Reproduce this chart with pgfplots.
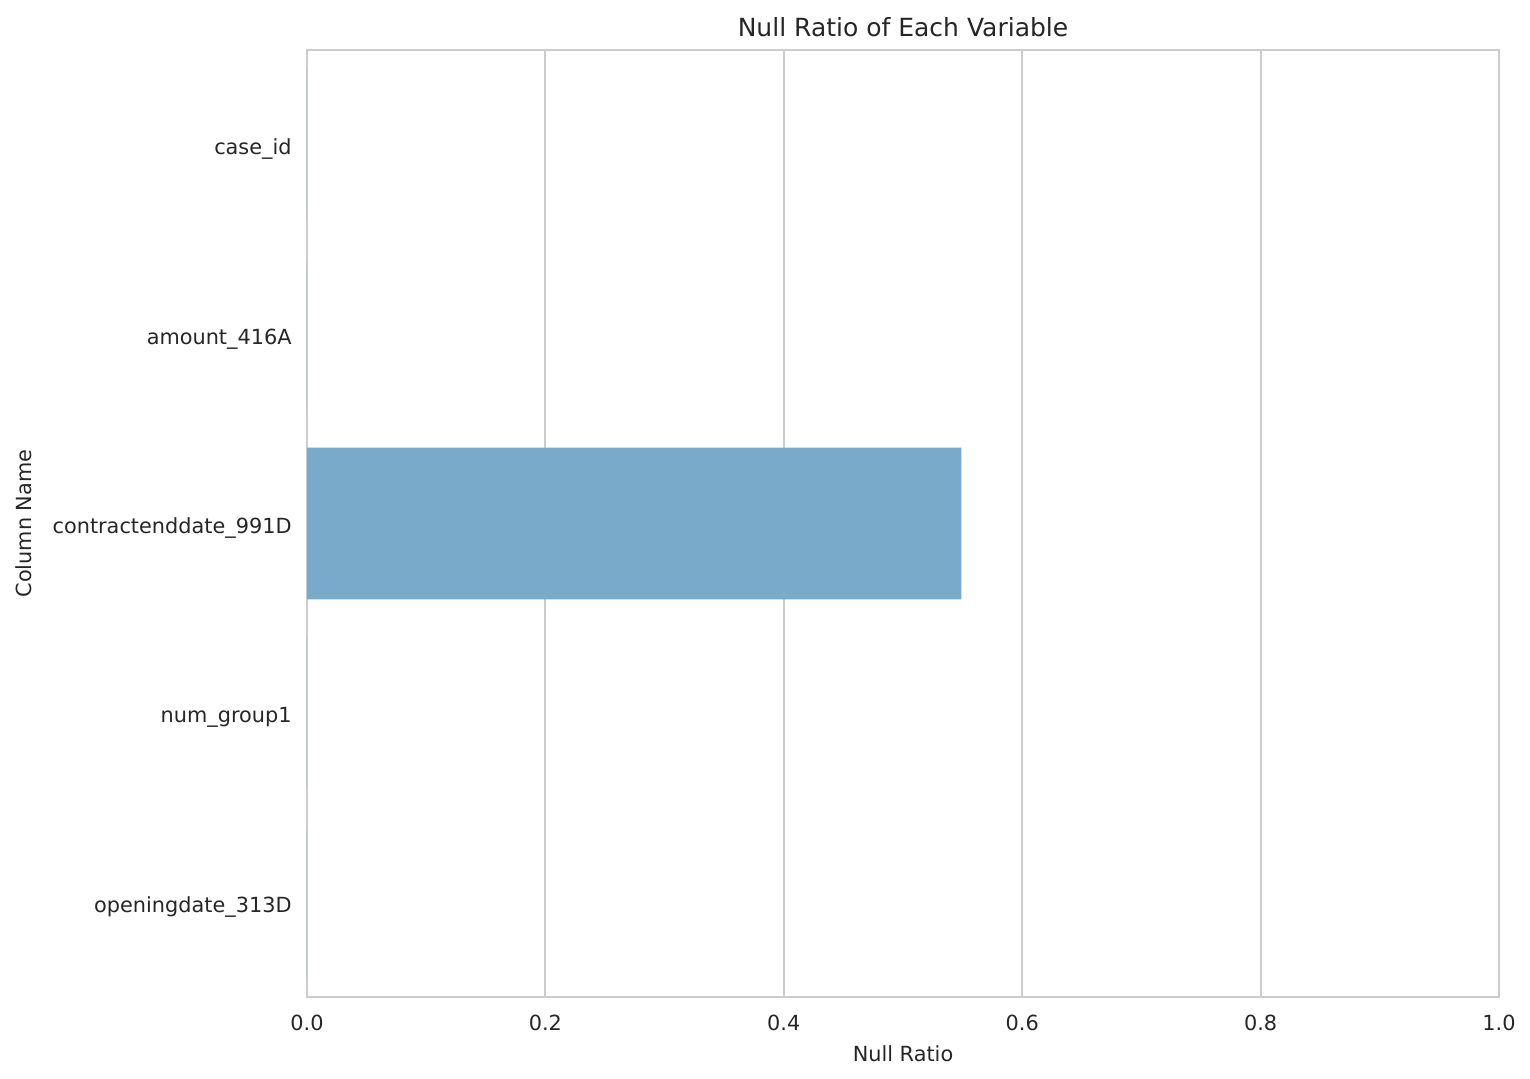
\documentclass[border=0pt]{standalone}
\usepackage{fontspec}
\setmainfont{DejaVu Sans}
\usepackage{pgfplots}
\pgfplotsset{compat=1.18}
\definecolor{barblue}{RGB}{122,170,201}
\definecolor{gridgray}{RGB}{204,204,204}
\definecolor{txt}{RGB}{38,38,38}
\begin{document}
\begin{tikzpicture}
\useasboundingbox (-147.36pt,-38.88pt) rectangle (587.04pt,478.56pt);
\begin{axis}[
  scale only axis, width=572.16pt, height=454.56pt,
  xbar, bar width=0.8, y dir=reverse,
  xmin=0, xmax=1, ymin=-0.5, ymax=4.5,
  ytick={0,1,2,3,4},
  yticklabels={case\_id, amount\_416A, contractenddate\_991D, num\_group1, openingdate\_313D},
  xtick={0,0.2,0.4,0.6,0.8,1},
  /pgf/number format/assume math mode=true,
  xticklabel style={/pgf/number format/fixed, /pgf/number format/fixed zerofill,
    /pgf/number format/precision=1, anchor=base, yshift=-15.84pt},
  yticklabel style={anchor=base east, inner sep=0pt, xshift=-7.2pt, yshift=-4.8pt},
  tick label style={font=\fontsize{10}{12}\selectfont, text=txt},
  major tick length=0pt,
  xmajorgrids, ymajorgrids=false,
  major grid style={gridgray, line width=0.9pt},
  axis line style={gridgray, line width=1pt},
  title={Null Ratio of Each Variable},
  title style={at={(axis description cs:0.5,1)}, anchor=base, yshift=0.3pt,
    font=\fontsize{12}{14}\selectfont, text=txt},
  xlabel={Null Ratio},
  xlabel style={at={(axis description cs:0.5,0)}, anchor=base, yshift=-30.8pt,
    font=\fontsize{10}{12}\selectfont, text=txt},
  ylabel={Column Name},
  ylabel style={at={(axis description cs:0,0.5)}, anchor=base, yshift=132pt,
    font=\fontsize{10}{12}\selectfont, text=txt},
]
\addplot[fill=barblue, draw=none] coordinates {
  (0,0) (0,1) (0.549,2) (0,3) (0,4)
};
\end{axis}
\end{tikzpicture}
\end{document}
